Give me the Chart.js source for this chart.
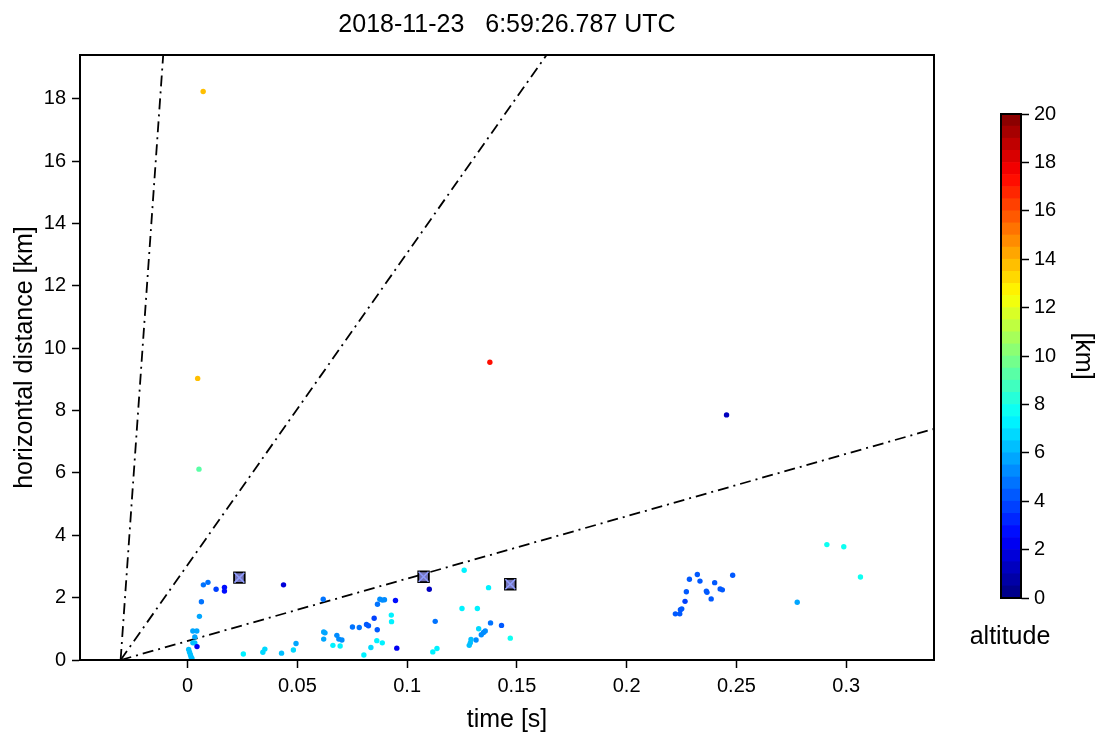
<!DOCTYPE html>
<html>
<head>
<meta charset="utf-8">
<script src="https://cdn.jsdelivr.net/npm/chart.js@4.4.1/dist/chart.umd.min.js"></script>
<style>
  html, body { margin: 0; padding: 0; background: #fff; }
  #wrap { position: relative; width: 1099px; height: 740px; }
  #main { position: absolute; left: 0; top: 0; }
  #cbar { position: absolute; left: 921px; top: 0; }
</style>
</head>
<body>
<div id="wrap">
  <canvas id="main" width="1099" height="740"></canvas>
  <canvas id="cbar" width="178" height="740"></canvas>
</div>
<script>
// source points: time [s], horizontal distance [km], altitude [km]
const timeS = [
  0.0072, 0.0093, 0.0130, 0.0168, 0.0168, 0.0437, 0.0063, 0.0054, 0.0024, 0.0042,
  0.0033, 0.0024, 0.0033, 0.0043, 0.0005, 0.0009, 0.0013, 0.0016, 0.0020, 0.0254,
  0.0343, 0.0352, 0.0428, 0.0482, 0.0494, 0.0618, 0.0620, 0.0626, 0.0620, 0.0662,
  0.0680, 0.0689, 0.0703, 0.0695, 0.0751, 0.0782, 0.0803, 0.0815, 0.0824, 0.0835,
  0.0850, 0.0864, 0.0862, 0.0865, 0.0876, 0.0887, 0.0897, 0.0887, 0.0928, 0.0929,
  0.0947, 0.0953, 0.1101, 0.1260, 0.1371, 0.1250, 0.1320, 0.1128, 0.1117, 0.1136,
  0.1380, 0.1430, 0.1470, 0.1326, 0.1356, 0.1348, 0.1338, 0.1314, 0.1291, 0.1288,
  0.1283, 0.2222, 0.2242, 0.2245, 0.2251, 0.2266, 0.2272, 0.2286, 0.2322, 0.2334,
  0.2363, 0.2366, 0.2385, 0.2401, 0.2426, 0.2436, 0.2483, 0.2777, 0.2912, 0.2989,
  0.3065, 0.0071, 0.0046, 0.0052, 0.1377, 0.2455
];
const distanceKm = [
  2.41, 2.49, 2.27, 2.33, 2.21, 2.41, 1.87, 1.40, 0.93, 0.93,
  0.74, 0.55, 0.55, 0.43, 0.34, 0.25, 0.17, 0.10, 0.05, 0.19,
  0.25, 0.35, 0.22, 0.32, 0.53, 1.95, 0.90, 0.87, 0.67, 0.47,
  0.79, 0.67, 0.64, 0.45, 1.06, 1.04, 0.16, 1.14, 1.10, 0.40,
  1.34, 0.97, 0.62, 1.79, 1.95, 1.92, 1.93, 0.55, 1.44, 1.23,
  1.91, 0.38, 2.27, 2.88, 2.32, 1.65, 1.65, 1.24, 0.26, 0.37,
  1.19, 1.11, 0.70, 1.00, 0.93, 0.88, 0.81, 0.64, 0.66, 0.55,
  0.47, 1.48, 1.48, 1.61, 1.64, 1.88, 2.19, 2.59, 2.74, 2.53,
  2.21, 2.17, 1.96, 2.48, 2.28, 2.25, 2.72, 1.85, 3.70, 3.63,
  2.66, 18.23, 9.03, 6.12, 9.55, 7.86
];
const altitudeKm = [
  4.5, 4.5, 3.5, 2.5, 2.5, 1.5, 4.8, 5.5, 5.5, 5.5,
  5.5, 6.0, 6.0, 2.0, 6.0, 6.0, 6.0, 6.0, 6.0, 7.0,
  6.5, 6.5, 6.0, 6.5, 5.5, 4.8, 5.5, 5.5, 5.8, 7.0,
  5.2, 5.2, 5.2, 7.0, 4.8, 4.8, 7.2, 4.2, 4.2, 6.5,
  3.5, 4.0, 7.0, 4.8, 5.0, 5.0, 5.0, 7.0, 7.0, 7.3,
  2.5, 2.2, 1.2, 7.0, 7.0, 7.2, 7.2, 4.5, 7.0, 7.0,
  4.5, 4.0, 7.6, 6.5, 5.2, 5.2, 5.2, 5.0, 6.2, 6.2,
  6.2, 4.2, 4.2, 4.2, 4.2, 3.5, 4.2, 4.2, 4.2, 4.2,
  4.2, 4.2, 4.2, 4.2, 4.2, 4.2, 4.2, 5.5, 7.5, 7.5,
  7.5, 13.5, 13.5, 9.0, 17.0, 1.2
];

// boxed markers
const markerTimeS = [0.0236, 0.1075, 0.1470];
const markerDistanceKm = [2.64, 2.67, 2.43];

// dash-dot reference lines, all starting from one point
const refLineStart = { x: -0.0305, y: 0 };
const refLineEnds = [
  { x: -0.0111, y: 19.4 },
  { x: 0.1635, y: 19.4 },
  { x: 0.34, y: 7.41 }
];

// axes
const xMin = -0.049, xMax = 0.34;
const yMin = 0, yMax = 19.4;
const xMajorTicks = [0, 0.05, 0.1, 0.15, 0.2, 0.25, 0.3];
const xTickLabels = ['0', '0.05', '0.1', '0.15', '0.2', '0.25', '0.3'];
const xMinorStep = 0.01;
const yMajorTicks = [0, 2, 4, 6, 8, 10, 12, 14, 16, 18];
const yTickLabels = ['0', '2', '4', '6', '8', '10', '12', '14', '16', '18'];
const yMinorStep = 1;

// colour bar
const cbarMin = 0, cbarMax = 20, cbarLevels = 40;
const cbarMajorTicks = [0, 2, 4, 6, 8, 10, 12, 14, 16, 18, 20];
const cbarTickLabels = ['0', '2', '4', '6', '8', '10', '12', '14', '16', '18', '20'];

const titleText = '2018-11-23   6:59:26.787 UTC';

Chart.defaults.font.family = "'Liberation Sans', Arial, sans-serif";
Chart.defaults.color = '#000';

function clamp01(v) { return Math.max(0, Math.min(1, v)); }
function jet(v) {
  const r = clamp01(1.5 - Math.abs(4 * v - 3));
  const g = clamp01(1.5 - Math.abs(4 * v - 2));
  const b = clamp01(1.5 - Math.abs(4 * v - 1));
  return `rgb(${Math.round(r * 255)},${Math.round(g * 255)},${Math.round(b * 255)})`;
}
// discrete colormap, same bins as the colour bar
function altColor(alt) {
  const step = (cbarMax - cbarMin) / cbarLevels;
  const bin = Math.min(cbarLevels - 1, Math.max(0, Math.floor((alt - cbarMin) / step)));
  return jet((bin + 0.5) / cbarLevels);
}

function stepTicks(min, max, step) {
  const out = [];
  const first = Math.ceil(min / step - 1e-9);
  for (let i = first; i * step <= max + 1e-9; i++) out.push(+(i * step).toFixed(6));
  return out;
}
function findIndex(list, v) {
  return list.findIndex(m => Math.abs(m - v) < 1e-9);
}

const frame = {
  id: 'frame',
  afterDatasetsDraw(chart) {
    const { ctx, chartArea: a } = chart;
    ctx.save();
    ctx.strokeStyle = '#000';
    ctx.lineWidth = 2;
    ctx.strokeRect(a.left, a.top, a.right - a.left, a.bottom - a.top);
    ctx.restore();
  }
};

const tickFont = { size: 20 };
const titleFont = { size: 25 };

// main chart
const points = timeS.map((t, i) => ({ x: t, y: distanceKm[i] }));
const markers = markerTimeS.map((t, i) => ({ x: t, y: markerDistanceKm[i] }));

const lineSets = refLineEnds.map(end => ({
  data: [refLineStart, end],
  showLine: true,
  borderColor: '#000',
  borderWidth: 1.8,
  borderDash: [11, 5, 2, 5],
  pointRadius: 0,
  fill: false
}));

new Chart(document.getElementById('main'), {
  type: 'scatter',
  data: {
    datasets: [
      {
        data: markers,
        pointStyle: 'crossRot',
        pointRadius: 7,
        borderColor: '#8f9cff',
        borderWidth: 1.5,
        backgroundColor: 'transparent'
      },
      {
        data: markers,
        pointStyle: 'rect',
        pointRadius: 7.5,
        backgroundColor: '#7676b8',
        borderColor: '#000',
        borderWidth: 1.8
      },
      {
        data: points,
        pointRadius: 2.7,
        pointBorderWidth: 0,
        pointBackgroundColor: altitudeKm.map(altColor),
        pointBorderColor: altitudeKm.map(altColor)
      },
      ...lineSets
    ]
  },
  options: {
    responsive: false,
    animation: false,
    layout: { padding: { left: 0, right: 165, top: 0, bottom: 0 } },
    plugins: {
      legend: { display: false },
      tooltip: { enabled: false },
      title: {
        display: true,
        text: titleText,
        fullSize: false,
        font: { size: 25, weight: 'normal' },
        color: '#000',
        padding: { top: 10, bottom: 15 }
      }
    },
    scales: {
      x: {
        type: 'linear',
        min: xMin,
        max: xMax,
        afterBuildTicks: s => { s.ticks = stepTicks(xMin, xMax, xMinorStep).map(v => ({ value: v })); },
        afterFit: s => { s.height = 80; },
        ticks: {
          autoSkip: false,
          maxRotation: 0,
          font: tickFont,
          padding: 6,
          callback: v => { const k = findIndex(xMajorTicks, v); return k < 0 ? null : xTickLabels[k]; }
        },
        grid: {
          drawOnChartArea: false,
          tickLength: 8,
          tickWidth: 1.5,
          tickColor: '#000',
          // minor ticks: only the first few pixels of the tick are drawn
          tickBorderDash: c => findIndex(xMajorTicks, c.tick.value) < 0 ? [4, 40] : []
        },
        border: { color: '#000', width: 2 },
        title: { display: true, text: 'time [s]', font: titleFont, padding: { top: 0, bottom: 5 } }
      },
      y: {
        type: 'linear',
        min: yMin,
        max: yMax,
        afterBuildTicks: s => { s.ticks = stepTicks(yMin, yMax, yMinorStep).map(v => ({ value: v })); },
        afterFit: s => { s.width = 80; },
        ticks: {
          autoSkip: false,
          font: tickFont,
          padding: 6,
          callback: v => { const k = findIndex(yMajorTicks, v); return k < 0 ? null : yTickLabels[k]; }
        },
        grid: {
          drawOnChartArea: false,
          tickLength: 8,
          tickWidth: 1.5,
          tickColor: '#000',
          tickBorderDash: c => findIndex(yMajorTicks, c.tick.value) < 0 ? [4, 40] : []
        },
        border: { color: '#000', width: 2 },
        title: { display: true, text: 'horizontal distance [km]', font: titleFont, padding: { top: 10, bottom: 0 } }
      }
    }
  },
  plugins: [frame]
});

// colour bar
const levelStep = (cbarMax - cbarMin) / cbarLevels;
const cbarSets = [];
for (let i = 0; i < cbarLevels; i++) {
  cbarSets.push({
    data: [levelStep],
    xAxisID: 'x',
    yAxisID: 'y',
    backgroundColor: jet((i + 0.5) / cbarLevels),
    borderWidth: 0,
    barPercentage: 1,
    categoryPercentage: 1
  });
}

new Chart(document.getElementById('cbar'), {
  type: 'bar',
  data: { labels: [''], datasets: cbarSets },
  options: {
    responsive: false,
    animation: false,
    layout: { padding: { left: 0, right: 0, top: 114, bottom: 0 } },
    plugins: {
      legend: { display: false },
      tooltip: { enabled: false },
      title: {
        display: true,
        position: 'bottom',
        text: 'altitude',
        font: { size: 25, weight: 'normal' },
        color: '#000',
        padding: { top: 24, bottom: 88 }
      }
    },
    scales: {
      x: { stacked: true, display: false },
      y: {
        stacked: true,
        position: 'right',
        min: cbarMin,
        max: cbarMax,
        afterBuildTicks: s => { s.ticks = stepTicks(cbarMin, cbarMax, 1).map(v => ({ value: v })); },
        afterFit: s => { s.width = 78; },
        ticks: {
          autoSkip: false,
          font: tickFont,
          padding: 5,
          callback: v => { const k = findIndex(cbarMajorTicks, v); return k < 0 ? null : cbarTickLabels[k]; }
        },
        grid: {
          drawOnChartArea: false,
          tickLength: 8,
          tickWidth: 1.5,
          tickColor: '#000',
          tickBorderDash: c => findIndex(cbarMajorTicks, c.tick.value) < 0 ? [4, 40] : []
        },
        border: { color: '#000', width: 1.5 },
        title: { display: true, text: '[km]', font: titleFont, padding: { top: 1, bottom: 0 } }
      },
      // empty axis that only keeps the bar clear of the main plot
      spacer: {
        type: 'linear',
        axis: 'y',
        position: 'left',
        afterFit: s => { s.width = 80; },
        ticks: { display: false },
        grid: { display: false },
        border: { display: false }
      }
    }
  },
  plugins: [frame]
});
</script>
</body>
</html>
